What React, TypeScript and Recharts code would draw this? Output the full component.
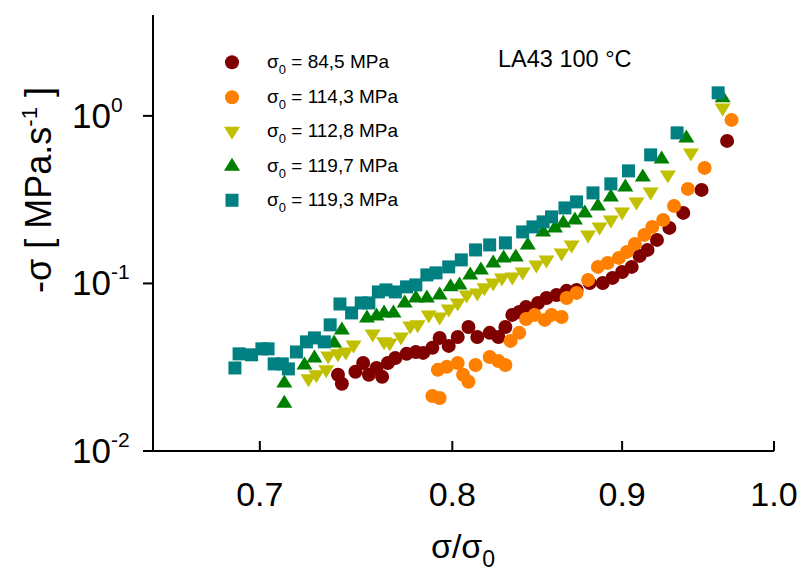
import React from 'react'
import { ScatterChart, Scatter, XAxis, YAxis, Legend } from 'recharts'

const FONT = '"Liberation Sans", Arial, Helvetica, sans-serif'

const xTicks = [0.7, 0.8, 0.9, 1.0]
const yTicks = [0.01, 0.1, 1]

// σ0 = 84,5 MPa
const ratio845 = [0.739, 0.741, 0.748, 0.752, 0.755, 0.759, 0.762, 0.765, 0.769, 0.775, 0.78, 0.784, 0.789, 0.793, 0.798, 0.803, 0.809, 0.814, 0.821, 0.826, 0.83, 0.834, 0.838, 0.842, 0.849, 0.854, 0.86, 0.866, 0.872, 0.88, 0.888, 0.894, 0.9, 0.906, 0.911, 0.916, 0.922, 0.93, 0.939, 0.951, 0.968]
const rate845 = [0.0285, 0.0252, 0.0297, 0.0335, 0.0285, 0.0313, 0.0277, 0.0335, 0.0359, 0.038, 0.039, 0.0385, 0.0413, 0.0473, 0.0424, 0.0479, 0.055, 0.0479, 0.0507, 0.0479, 0.055, 0.0649, 0.0676, 0.0724, 0.0765, 0.0819, 0.0854, 0.0903, 0.0915, 0.1007, 0.1007, 0.1079, 0.1171, 0.1255, 0.146, 0.1585, 0.1819, 0.2145, 0.2636, 0.3617, 0.7092]

// σ0 = 114,3 MPa
const ratio1143 = [0.789, 0.793, 0.792, 0.797, 0.803, 0.806, 0.809, 0.813, 0.821, 0.826, 0.83, 0.833, 0.838, 0.842, 0.847, 0.853, 0.857, 0.863, 0.866, 0.872, 0.879, 0.885, 0.891, 0.898, 0.903, 0.908, 0.914, 0.919, 0.926, 0.933, 0.942, 0.953, 0.971]
const rate1143 = [0.0213, 0.0207, 0.0305, 0.0318, 0.0335, 0.0285, 0.0259, 0.0326, 0.0364, 0.0344, 0.0326, 0.0454, 0.0507, 0.0614, 0.0649, 0.0606, 0.0649, 0.0631, 0.0819, 0.0878, 0.105, 0.1255, 0.1326, 0.142, 0.1542, 0.1722, 0.1949, 0.2175, 0.2395, 0.2902, 0.3667, 0.4894, 0.9465]

// σ0 = 112,8 MPa
const ratio1128 = [0.724, 0.728, 0.733, 0.734, 0.739, 0.743, 0.747, 0.757, 0.763, 0.766, 0.772, 0.777, 0.781, 0.787, 0.793, 0.798, 0.803, 0.808, 0.814, 0.818, 0.823, 0.828, 0.834, 0.84, 0.848, 0.854, 0.863, 0.869, 0.879, 0.886, 0.893, 0.9, 0.909, 0.918, 0.929, 0.944, 0.965]
const rate1128 = [0.027, 0.0285, 0.0305, 0.0369, 0.038, 0.039, 0.0429, 0.05, 0.0448, 0.0441, 0.0479, 0.0558, 0.0566, 0.0649, 0.0631, 0.0704, 0.0765, 0.0854, 0.0878, 0.0941, 0.1007, 0.1079, 0.1094, 0.1171, 0.129, 0.1382, 0.1521, 0.1698, 0.1949, 0.2175, 0.2395, 0.2672, 0.3066, 0.3518, 0.4445, 0.6014, 1.116]

// σ0 = 119,7 MPa
const ratio1197 = [0.712, 0.712, 0.722, 0.727, 0.737, 0.741, 0.754, 0.759, 0.763, 0.768, 0.774, 0.78, 0.786, 0.793, 0.799, 0.804, 0.81, 0.816, 0.823, 0.829, 0.836, 0.843, 0.852, 0.859, 0.864, 0.871, 0.877, 0.885, 0.893, 0.902, 0.913, 0.925, 0.941, 0.965]
const rate1197 = [0.0193, 0.0255, 0.0326, 0.0359, 0.0441, 0.0528, 0.0623, 0.064, 0.0667, 0.0667, 0.0765, 0.0819, 0.0819, 0.0854, 0.0954, 0.098, 0.1124, 0.1204, 0.1326, 0.142, 0.144, 0.1698, 0.203, 0.2145, 0.2298, 0.2395, 0.2636, 0.2902, 0.3285, 0.3769, 0.4324, 0.5538, 0.739, 1.281]

// σ0 = 119,3 MPa
const ratio1193 = [0.688, 0.69, 0.696, 0.701, 0.704, 0.707, 0.711, 0.714, 0.718, 0.723, 0.727, 0.732, 0.735, 0.74, 0.746, 0.751, 0.755, 0.76, 0.764, 0.769, 0.775, 0.78, 0.786, 0.791, 0.798, 0.805, 0.813, 0.821, 0.83, 0.84, 0.846, 0.852, 0.857, 0.865, 0.872, 0.882, 0.893, 0.904, 0.918, 0.935, 0.962]
const rate1193 = [0.0313, 0.038, 0.0375, 0.0407, 0.0407, 0.0331, 0.0331, 0.0309, 0.039, 0.0448, 0.0473, 0.0448, 0.0566, 0.0754, 0.0667, 0.0765, 0.0765, 0.089, 0.0915, 0.089, 0.0954, 0.098, 0.1124, 0.1156, 0.1255, 0.1382, 0.1585, 0.1698, 0.1746, 0.203, 0.2175, 0.233, 0.2495, 0.2823, 0.3066, 0.3471, 0.3928, 0.4696, 0.5851, 0.7916, 1.372]

type Shape = 'circle' | 'square' | 'triangle' | 'triangleDown'

const series: { sigma0: string; color: string; shape: Shape; x: number[]; y: number[] }[] = [
  { sigma0: '84,5', color: '#800000', shape: 'circle', x: ratio845, y: rate845 },
  { sigma0: '114,3', color: '#ff8000', shape: 'circle', x: ratio1143, y: rate1143 },
  { sigma0: '112,8', color: '#c0c000', shape: 'triangleDown', x: ratio1128, y: rate1128 },
  { sigma0: '119,7', color: '#008000', shape: 'triangle', x: ratio1197, y: rate1197 },
  { sigma0: '119,3', color: '#008080', shape: 'square', x: ratio1193, y: rate1193 },
]

function Marker({ cx, cy, shape, color }: { cx: number; cy: number; shape: Shape; color: string }) {
  if (shape === 'circle') return <circle cx={cx} cy={cy} r={7} fill={color} />
  if (shape === 'square') return <rect x={cx - 6.5} y={cy - 6.5} width={13} height={13} fill={color} />
  if (shape === 'triangle') {
    return <polygon points={`${cx},${cy - 8.5} ${cx - 8},${cy + 4.5} ${cx + 8},${cy + 4.5}`} fill={color} />
  }
  return <polygon points={`${cx - 8},${cy - 4.5} ${cx + 8},${cy - 4.5} ${cx},${cy + 8.5}`} fill={color} />
}

function BottomTick({ x, y, payload }: any) {
  return (
    <g>
      <line x1={x} x2={x} y1={y} y2={y - 10} stroke="#000" strokeWidth={2} />
      <text x={x} y={y + 55} textAnchor="middle" fontSize={34} fontFamily={FONT} fill="#000">
        {Number(payload.value).toFixed(1)}
      </text>
    </g>
  )
}

function TopTick({ x, y }: any) {
  return <line x1={x} x2={x} y1={y} y2={y - 10} stroke="#000" strokeWidth={2} />
}

function LeftTick({ x, y, payload }: any) {
  const exp = Math.round(Math.log10(payload.value))
  return (
    <g>
      <line x1={x - 10} x2={x} y1={y} y2={y} stroke="#000" strokeWidth={2} />
      <text x={x - 81} y={y + 12} fontSize={35} fontFamily={FONT} fill="#000">
        10<tspan dy={-16} fontSize={21}>{exp}</tspan>
      </text>
    </g>
  )
}

function RightTick({ x, y }: any) {
  return <line x1={x - 10} x2={x} y1={y} y2={y} stroke="#000" strokeWidth={2} />
}

function XTitle() {
  return (
    <text x={463} y={558} textAnchor="middle" fontSize={34} fontFamily={FONT} fill="#000">
      σ/σ<tspan dy={9} fontSize={23}>0</tspan>
    </text>
  )
}

function YTitle() {
  return (
    <text x={51} y={190} transform="rotate(-90 51 190)" textAnchor="middle" fontSize={36} fontFamily={FONT} fill="#000">
      -σ [ MPa.s<tspan dy={-14} fontSize={22}>-1</tspan><tspan dy={14}> ]</tspan>
    </text>
  )
}

// legend drawn in the same order as the series list
function LegendBox() {
  return (
    <div style={{ fontFamily: FONT, fontSize: 19, color: '#000' }}>
      {series.map((s) => (
        <div key={s.sigma0} style={{ display: 'flex', alignItems: 'center', height: 34.5 }}>
          <svg width={28} height={34.5}>
            <Marker cx={14} cy={17.25} shape={s.shape} color={s.color} />
          </svg>
          <span style={{ marginLeft: 21, whiteSpace: 'nowrap' }}>
            σ<span style={{ fontSize: 13, position: 'relative', top: 6 }}>0</span> = {s.sigma0} MPa
          </span>
        </div>
      ))}
    </div>
  )
}

export default function App() {
  return (
    <div style={{ position: 'absolute', left: 0, top: 0, width: 803, height: 576, background: '#fff' }}>
      <ScatterChart width={803} height={576} margin={{ top: 15, right: 29, bottom: 0, left: 0 }}>
        <XAxis
          xAxisId="bottom"
          type="number"
          dataKey="x"
          scale="log"
          domain={[0.65, 1]}
          ticks={xTicks}
          interval={0}
          allowDataOverflow
          height={125}
          axisLine={{ stroke: '#000', strokeWidth: 2 }}
          tickLine={false}
          tickSize={0}
          tickMargin={0}
          tick={<BottomTick />}
          label={<XTitle />}
        />
        <XAxis
          xAxisId="top"
          orientation="top"
          type="number"
          scale="log"
          domain={[0.65, 1]}
          ticks={xTicks}
          interval={0}
          allowDataOverflow
          height={0}
          axisLine={{ stroke: '#000', strokeWidth: 2 }}
          tickLine={false}
          tickSize={0}
          tickMargin={0}
          tick={<TopTick />}
        />
        <YAxis
          yAxisId="left"
          type="number"
          dataKey="y"
          scale="log"
          domain={[0.01, 4]}
          ticks={yTicks}
          interval={0}
          allowDataOverflow
          width={153}
          axisLine={{ stroke: '#000', strokeWidth: 2 }}
          tickLine={false}
          tickSize={0}
          tickMargin={0}
          tick={<LeftTick />}
          label={<YTitle />}
        />
        <YAxis
          yAxisId="right"
          orientation="right"
          type="number"
          scale="log"
          domain={[0.01, 4]}
          ticks={yTicks}
          interval={0}
          allowDataOverflow
          width={0}
          axisLine={{ stroke: '#000', strokeWidth: 2 }}
          tickLine={false}
          tickSize={0}
          tickMargin={0}
          tick={<RightTick />}
        />
        <Legend
          layout="vertical"
          align="center"
          verticalAlign="middle"
          content={<LegendBox />}
          wrapperStyle={{ left: 218, top: 45, width: 260, height: 175 }}
        />
        {series.map((s) => (
          <Scatter
            key={s.sigma0}
            name={s.sigma0}
            xAxisId="bottom"
            yAxisId="left"
            data={s.x.map((x, i) => ({ x, y: s.y[i] }))}
            fill={s.color}
            isAnimationActive={false}
            shape={(p: any) => <Marker cx={p.cx} cy={p.cy} shape={s.shape} color={s.color} />}
          />
        ))}
      </ScatterChart>
      <div
        style={{
          position: 'absolute',
          left: 498,
          top: 47,
          fontFamily: FONT,
          fontSize: 23.5,
          lineHeight: '24px',
          whiteSpace: 'nowrap',
          color: '#000',
        }}
      >
        LA43 100 °C
      </div>
    </div>
  )
}
